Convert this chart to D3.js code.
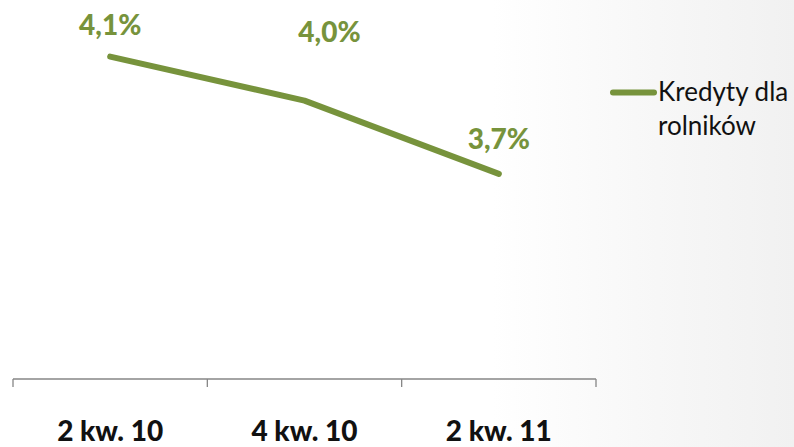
<!DOCTYPE html>
<html>
<head>
<meta charset="utf-8">
<script src="https://cdn.jsdelivr.net/npm/d3@7"></script>
<style>
  html, body { margin: 0; padding: 0; background: #fff; }
  svg { display: block; }
</style>
</head>
<body>
<div id="chart"></div>
<script>
// ---- data ----
const categories = ["2 kw. 10", "4 kw. 10", "2 kw. 11"];
const values = [4.14, 3.96, 3.66];
const valueLabels = ["4,1%", "4,0%", "3,7%"];
const seriesName = ["Kredyty dla", "rolników"];

// ---- layout ----
const W = 794, H = 447;
const green = "#77933C";
const font = "Lato, 'Open Sans', sans-serif";

const svg = d3.select("#chart").append("svg")
  .attr("width", W).attr("height", H);

const defs = svg.append("defs");
const grad = defs.append("linearGradient").attr("id", "bg")
  .attr("x1", "0").attr("x2", "1").attr("y1", "0").attr("y2", "0");
grad.append("stop").attr("offset", "0.62").attr("stop-color", "#ffffff");
grad.append("stop").attr("offset", "0.8").attr("stop-color", "#f8f8f8");
grad.append("stop").attr("offset", "1").attr("stop-color", "#f1f1f1");
svg.append("rect").attr("width", W).attr("height", H).attr("fill", "url(#bg)");

const x = d3.scaleBand().domain(categories).range([13, 596]);
const y = d3.scaleLinear().domain([2.82, 4.2]).range([379, 42]);

// axis
const axis = d3.axisBottom(x).tickSize(0).tickFormat("");
const gAxis = svg.append("g").attr("transform", "translate(0,379)").call(axis);
gAxis.select(".domain").remove();
gAxis.append("line").attr("x1", x.range()[0]).attr("x2", x.range()[1])
  .attr("stroke", "#868686").attr("stroke-width", 1.3);
const tickPos = categories.map(c => x(c)).concat([x.range()[1]]);
gAxis.selectAll("line.tk").data(tickPos).enter().append("line")
  .attr("class", "tk")
  .attr("x1", d => d).attr("x2", d => d).attr("y1", 0).attr("y2", 8)
  .attr("stroke", "#868686").attr("stroke-width", 1.3);

svg.append("g").selectAll("text").data(categories).enter().append("text")
  .attr("x", d => x(d) + x.bandwidth() / 2)
  .attr("y", 441)
  .attr("text-anchor", "middle")
  .attr("font-family", font).attr("font-weight", 900)
  .attr("font-size", 28).attr("fill", "#111")
  .text(d => d);

// line
const cx = (d, i) => x(categories[i]) + x.bandwidth() / 2;
const line = d3.line().x((d, i) => cx(d, i)).y(d => y(d));
svg.append("path").datum(values)
  .attr("d", line)
  .attr("fill", "none").attr("stroke", green)
  .attr("stroke-width", 6).attr("stroke-linecap", "round")
  .attr("stroke-linejoin", "round");

// data labels (second label was moved manually in the original)
const labelShift = [[0, -22], [25, -59], [0, -25]];
svg.append("g").selectAll("text").data(values).enter().append("text")
  .attr("x", (d, i) => cx(d, i) + labelShift[i][0])
  .attr("y", (d, i) => y(d) + labelShift[i][1])
  .attr("text-anchor", "middle")
  .attr("font-family", font).attr("font-weight", 900)
  .attr("font-size", 28).attr("fill", green)
  .text((d, i) => valueLabels[i]);

// legend
const lg = svg.append("g");
lg.append("line").attr("x1", 613).attr("x2", 654).attr("y1", 92.5).attr("y2", 92.5)
  .attr("stroke", green).attr("stroke-width", 6).attr("stroke-linecap", "round");
lg.selectAll("text").data(seriesName).enter().append("text")
  .attr("x", 658).attr("y", (d, i) => 101 + i * 34)
  .attr("font-family", font).attr("font-size", 26).attr("fill", "#111")
  .text(d => d);
</script>
</body>
</html>
